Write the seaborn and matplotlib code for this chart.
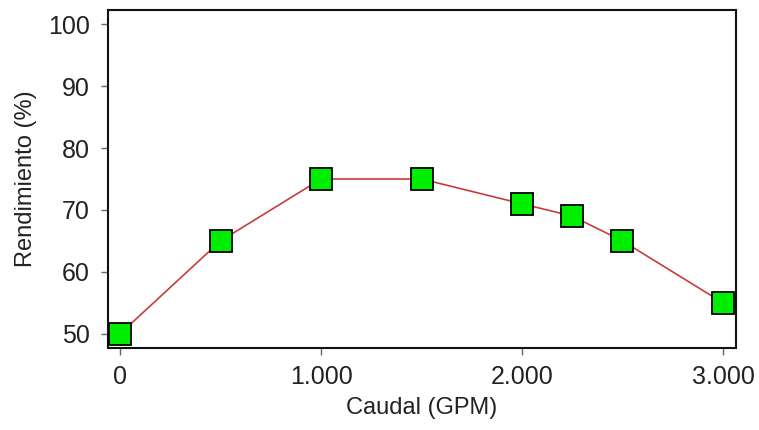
import matplotlib
matplotlib.use("Agg")
import matplotlib.pyplot as plt
import matplotlib.ticker as mticker
import seaborn as sns
import pandas as pd

# Data
caudal = [0, 500, 1000, 1500, 2000, 2250, 2500, 3000]
rendimiento = [50, 65, 75, 75, 71, 69, 65, 55]
x_ticks = [0, 1000, 2000, 3000]
y_ticks = [50, 60, 70, 80, 90, 100]

df = pd.DataFrame({"Caudal": caudal, "Rendimiento": rendimiento})

sns.set_style("white", {"xtick.bottom": True, "ytick.left": True})
plt.rcParams['font.family'] = ['Liberation Sans', 'DejaVu Sans']

fig = plt.figure(figsize=(7.59, 4.30), dpi=100)
ax = fig.add_axes([0.1423, 0.1907, 0.8274, 0.786])

sns.lineplot(data=df, x="Caudal", y="Rendimiento", ax=ax, color="#c83c3c",
             linewidth=1.2, marker="s", markersize=16,
             markerfacecolor="#00ee00", markeredgecolor="black",
             markeredgewidth=1.3, zorder=3, clip_on=False)

ax.set_xlim(-60, 3065)
ax.set_ylim(47.7, 102.3)
ax.set_xticks(x_ticks)
ax.set_yticks(y_ticks)
ax.xaxis.set_major_formatter(mticker.FuncFormatter(lambda v, p: f"{int(v):,}".replace(",", ".")))

ax.set_xlabel("Caudal (GPM)", fontsize=17, color="#222222", labelpad=6)
ax.set_ylabel("Rendimiento (%)", fontsize=17, color="#222222", labelpad=8)
ax.tick_params(axis="both", labelsize=18, length=5, width=1, color="#666666",
               labelcolor="#222222", direction="out")
ax.tick_params(axis="x", pad=7)
ax.tick_params(axis="y", pad=8)

for s in ax.spines.values():
    s.set_color("#111111")
    s.set_linewidth(1.5)

fig.savefig("out.png", dpi=100)
